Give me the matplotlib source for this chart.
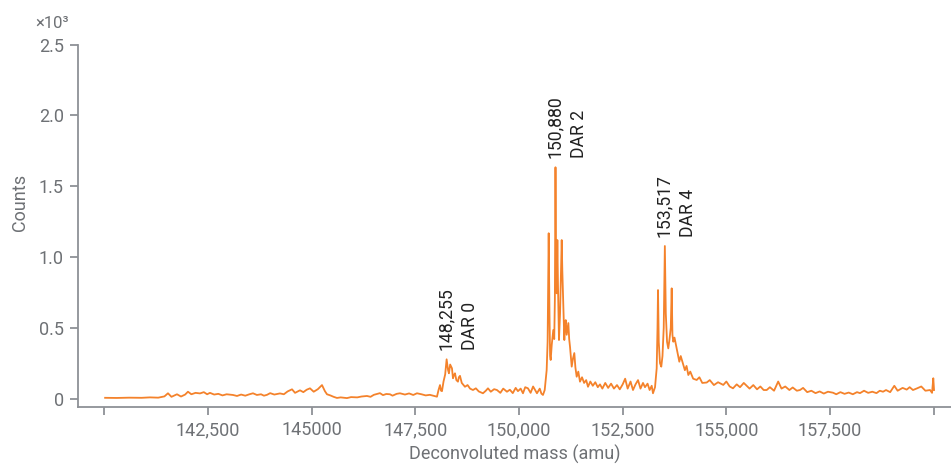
# ==========================================
# DECONVOLUTED MASS SPECTRUM - PLOT.PY
# ==========================================

import matplotlib
matplotlib.use("Agg")
import matplotlib.pyplot as plt
from matplotlib.ticker import FixedLocator, FuncFormatter


# ==========================================
# DATA (counts)
# ==========================================

# flat region before DAR 0
base_mass = [
    140020, 140300, 140600, 140900, 141100, 141300, 141450, 141536, 141620,
    141753, 141850, 141950, 142018, 142100, 142200, 142308, 142400, 142480,
    142549, 142650, 142750, 142850, 142950, 143104, 143200, 143300, 143400,
    143500, 143586, 143680, 143780, 143850, 143924, 144000, 144100, 144237,
    144330, 144420, 144527, 144600, 144719, 144800, 144880, 144960, 145050,
    145150, 145250, 145320, 145370, 145450, 145530, 145611, 145700, 145852,
    145950, 146100, 146200, 146334, 146420, 146500, 146648, 146720, 146800,
    146889, 146950, 147050, 147130, 147250, 147350, 147450, 147540, 147650,
    147750, 147850, 147950, 148022,
]
base_counts = [
    5, 4, 6, 5, 8, 6, 15, 37, 12,
    30, 14, 28, 48, 30, 40, 36, 45, 30,
    40, 28, 33, 22, 30, 25, 18, 28, 20,
    30, 37, 25, 30, 20, 26, 38, 28, 36,
    30, 50, 65, 40, 58, 45, 62, 72, 48,
    66, 95, 52, 30, 22, 12, 4, 8, 3,
    10, 8, 14, 18, 12, 26, 38, 24, 32,
    30, 20, 33, 37, 28, 36, 25, 37, 30,
    22, 26, 18, 13,
]

# DAR 0 cluster
dar0_mass = [
    148060, 148095, 148120, 148143, 148180, 148220, 148255, 148290, 148311,
    148340, 148384, 148408, 148430, 148456, 148490, 148528, 148550, 148577,
    148620, 148697, 148760, 148820, 148890, 148960, 149030, 149131, 149200,
    149252, 149320, 149400, 149469, 149550, 149620, 149710, 149780, 149850,
    149920, 149975, 150040, 150096, 150150, 150216, 150280, 150340, 150433,
    150500, 150540, 150578, 150620,
]
dar0_counts = [
    60, 95, 55, 52, 120, 170, 277, 200, 178,
    240, 213, 143, 165, 178, 130, 119, 150, 160,
    110, 83, 95, 70, 60, 72, 50, 37, 55,
    72, 48, 66, 60, 40, 70, 48, 62, 38,
    75, 52, 70, 37, 80, 72, 40, 85, 37,
    70, 35, 25, 60,
]

# DAR 2 cluster
dar2_mass = [
    150667, 150690, 150716, 150735, 150750, 150764, 150790, 150827, 150850,
    150865, 150880, 150895, 150910, 150925, 150940, 150964, 150990, 151030,
    151045, 151061, 151093, 151110, 151127, 151150, 151190, 151210, 151230,
    151250, 151271, 151300, 151334, 151360, 151391, 151430, 151471, 151520,
    151570, 151620, 151664, 151720, 151780, 151840, 151900, 151953, 152010,
    152080, 152150, 152220, 152290, 152363, 152430, 152500, 152560, 152620,
    152690, 152749, 152810, 152870, 152930, 152990, 153038, 153100, 153150,
    153200, 153231, 153280,
]
dar2_counts = [
    200, 400, 1167, 600, 300, 272, 380, 484, 420,
    700, 1633, 900, 743, 1119, 800, 413, 600, 1119,
    900, 744, 413, 520, 554, 450, 533, 420, 366,
    300, 225, 280, 321, 220, 154, 190, 119, 150,
    110, 130, 83, 120, 90, 115, 80, 100, 70,
    110, 75, 105, 70, 95, 65, 100, 140, 70,
    120, 60, 100, 130, 70, 110, 80, 105, 60,
    90, 37, 80,
]

# DAR 4 cluster and the tail
dar4_mass = [
    153320, 153340, 153352, 153370, 153400, 153431, 153460, 153490, 153517,
    153540, 153570, 153600, 153630, 153660, 153682, 153700, 153721, 153750,
    153786, 153820, 153866, 153900, 153962, 154000, 154040, 154083, 154130,
    154200, 154285, 154350, 154420, 154526, 154600, 154700, 154800, 154926,
    155000, 155080, 155160, 155250, 155330, 155420, 155491, 155560, 155650,
    155740, 155820, 155900, 155973, 156050, 156150, 156250, 156330, 156420,
    156520, 156600, 156700, 156776, 156850, 156950, 157050, 157150, 157250,
    157350, 157450, 157572, 157650, 157750, 157850, 157950, 158050, 158150,
    158223, 158320, 158420, 158520, 158620, 158700, 158778, 158850, 158950,
    159050, 159130, 159250, 159349, 159420, 159500, 159600, 159700, 159800,
    159911, 159960, 159990, 160008,
]
dar4_counts = [
    213, 500, 766, 400, 250, 225, 300, 500, 1077,
    600, 400, 354, 420, 500, 778, 450, 401, 430,
    378, 330, 260, 300, 237, 200, 230, 166, 190,
    140, 131, 150, 110, 113, 130, 95, 115, 96,
    120, 85, 72, 100, 80, 110, 90, 70, 95,
    65, 85, 60, 60, 80, 55, 120, 70, 85,
    60, 78, 55, 60, 75, 45, 55, 38, 50,
    35, 48, 41, 30, 45, 33, 42, 30, 45,
    38, 55, 40, 48, 38, 55, 48, 60, 45,
    90, 55, 75, 63, 80, 60, 72, 85, 55,
    60, 40, 143, 60,
]

# labelled peaks
peak_mass = [148255, 150880, 153517]
peak_text = ["148,255\nDAR 0", "150,880\nDAR 2", "153,517\nDAR 4"]

# x ticks (140,000 and 160,000 have no label)
x_ticks = [140000, 142500, 145000, 147500, 150000, 152500, 155000, 157500, 160000]
x_tick_labels = ["", "142,500", "145000", "147,500", "150,000",
                 "152,500", "155,000", "157,500", ""]
y_ticks = [0, 0.5, 1.0, 1.5, 2.0, 2.5]
y_tick_labels = ["0", "0.5", "1.0", "1.5", "2.0", "2.5"]


# ==========================================
# STYLE
# ==========================================

plt.rcParams["font.family"] = ["Roboto", "DejaVu Sans"]

laranja = "#F4822B"
cinza_eixo = "#8E9196"
cinza_texto = "#6E7175"


# ==========================================
# GRAPH
# ==========================================

massas = base_mass + dar0_mass + dar2_mass + dar4_mass
contagens = base_counts + dar0_counts + dar2_counts + dar4_counts

# plotted in thousands (x10^3)
contagens_k = [c / 1000 for c in contagens]

fig = plt.figure(figsize=(9.51, 4.65), dpi=100)
ax = fig.add_axes([0.0817, 0.1247, 0.9183, 0.7796])

ax.plot(massas, contagens_k, color=laranja, linewidth=1.3)

ax.set_xlim(139359, 160417)
ax.set_ylim(-0.06, 2.5)

# peak labels, just above each peak
for m, txt in zip(peak_mass, peak_text):
    i = massas.index(m)
    ax.annotate(
        txt,
        xy=(m, contagens_k[i]),
        xytext=(11.5, 9),
        textcoords="offset pixels",
        rotation=90,
        ha="center",
        va="bottom",
        multialignment="left",
        fontsize=12.7,
        color="#222222",
        linespacing=1.45,
    )

# spines
for lado in ["top", "right"]:
    ax.spines[lado].set_visible(False)
for lado in ["left", "bottom"]:
    ax.spines[lado].set_color(cinza_eixo)
    ax.spines[lado].set_linewidth(1.3)
ax.spines["left"].set_bounds(-0.06, 2.5)

ax.xaxis.set_major_locator(FixedLocator(x_ticks))
ax.xaxis.set_major_formatter(FuncFormatter(
    lambda v, p: x_tick_labels[x_ticks.index(int(round(v)))]
    if int(round(v)) in x_ticks else ""))
ax.yaxis.set_major_locator(FixedLocator(y_ticks))
ax.yaxis.set_major_formatter(FuncFormatter(
    lambda v, p: y_tick_labels[y_ticks.index(round(v, 1))]
    if round(v, 1) in y_ticks else ""))

ax.tick_params(axis="both", direction="out", length=5.5, width=1.3,
               color=cinza_eixo, labelcolor=cinza_texto, labelsize=13, pad=4.5)

ax.set_xlabel("Deconvoluted mass (amu)", fontsize=13, color=cinza_texto)
ax.xaxis.set_label_coords(0.5, -0.132)
ax.xaxis.label.set_va("center")

ax.set_ylabel("Counts", fontsize=13, color=cinza_texto)
ax.yaxis.set_label_coords(-0.066, 0.563)
ax.yaxis.label.set_va("center")

# multiplier text above the y axis
fig.text(35 / 951, 1 - 23 / 465, "×10³", fontsize=12, color=cinza_texto,
         ha="left", va="center")

fig.savefig("out.png", dpi=100)
